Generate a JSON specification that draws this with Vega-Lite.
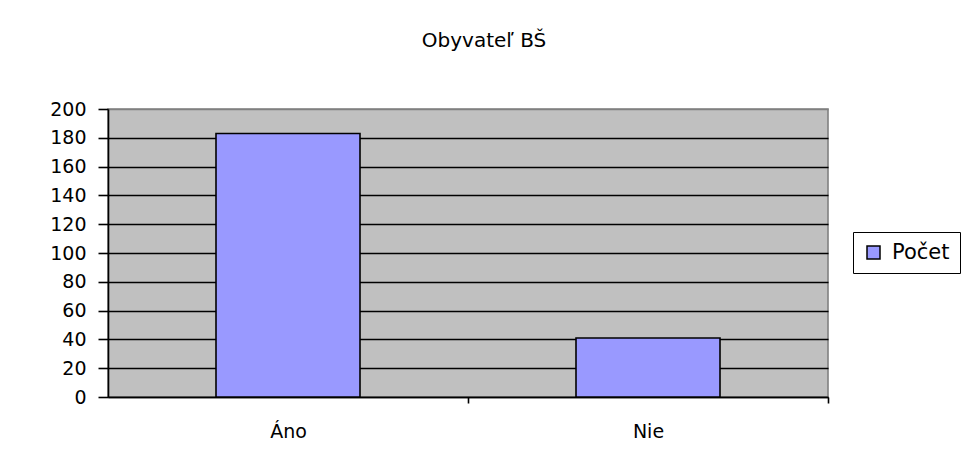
{
  "$schema": "https://vega.github.io/schema/vega-lite/v6.json",
  "width": 720,
  "height": 288,
  "autosize": {"type": "none"},
  "padding": {"left": 108, "top": 109, "right": 139, "bottom": 69},
  "background": "white",
  "title": {
    "text": "Obyvateľ BŠ",
    "font": "DejaVu Sans",
    "fontSize": 20,
    "fontWeight": "normal",
    "color": "black",
    "anchor": "middle",
    "frame": "group",
    "dx": 16,
    "offset": 33,
    "baseline": "alphabetic"
  },
  "data": {
    "values": [
      {"kategoria": "Áno", "pocet": 183, "seria": "Počet"},
      {"kategoria": "Nie", "pocet": 41, "seria": "Počet"}
    ]
  },
  "mark": {"type": "bar", "stroke": "black", "strokeWidth": 1.6},
  "encoding": {
    "x": {
      "field": "kategoria",
      "type": "nominal",
      "sort": null,
      "scale": {"paddingInner": 0.6, "paddingOuter": 0.3},
      "axis": {
        "title": null,
        "labelAngle": 0,
        "labelFont": "DejaVu Sans",
        "labelFontSize": 19,
        "labelColor": "black",
        "labelPadding": 19,
        "tickOffset": 180,
        "labelOffset": -180,
        "ticks": true,
        "tickSize": 6,
        "tickWidth": 1.6,
        "tickColor": "black",
        "domainColor": "black",
        "domainWidth": 1.6,
        "grid": false
      }
    },
    "y": {
      "field": "pocet",
      "type": "quantitative",
      "scale": {"domain": [0, 200], "nice": false},
      "axis": {
        "title": null,
        "values": [0, 20, 40, 60, 80, 100, 120, 140, 160, 180, 200],
        "labelFont": "DejaVu Sans",
        "labelFontSize": 19,
        "labelColor": "black",
        "labelPadding": 12,
        "ticks": true,
        "tickSize": 10,
        "tickWidth": 1.6,
        "tickColor": "black",
        "domainColor": "black",
        "domainWidth": 1.6,
        "grid": true,
        "gridColor": {"condition": {"test": "datum.value === 200", "value": "#808080"}, "value": "black"},
        "gridWidth": 1.6,
        "gridOpacity": 1
      }
    },
    "color": {
      "field": "seria",
      "type": "nominal",
      "scale": {"range": ["#9999FF"]},
      "legend": {
        "title": null,
        "orient": "none",
        "legendX": 745,
        "legendY": 123,
        "strokeColor": "black",
        "fillColor": "white",
        "padding": 10,
        "symbolType": "square",
        "symbolSize": 169,
        "symbolStrokeColor": "black",
        "symbolStrokeWidth": 1.5,
        "symbolFillColor": "#9999FF",
        "labelFont": "DejaVu Sans",
        "labelFontSize": 21,
        "labelColor": "black",
        "labelOffset": 8
      }
    }
  },
  "config": {
    "view": {"fill": "#C0C0C0", "stroke": "#808080", "strokeWidth": 1.6}
  }
}
